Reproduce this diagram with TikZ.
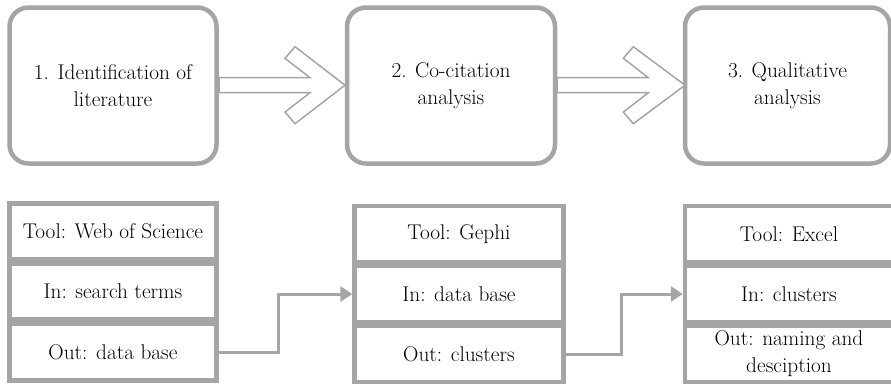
\documentclass[tikz,border=0pt]{standalone}
\usetikzlibrary{arrows.meta}
\definecolor{boxgray}{HTML}{A5A5A5}
\tikzset{
  stage/.style={draw=boxgray, line width=4.5pt, rounded corners=19pt, fill=white,
    align=center, inner sep=0pt, font=\fontsize{21.3}{27}\selectfont},
  cell/.style={draw=boxgray, line width=4.5pt, fill=white, align=center, inner sep=0pt,
    minimum height=56pt, font=\fontsize{21.3}{27}\selectfont},
  hollow/.style={draw=boxgray, line width=1.5pt, fill=white, line join=miter},
  link/.style={draw=boxgray, line width=3pt, -{Triangle[length=12pt,width=15pt]}}
}
\begin{document}
\begin{tikzpicture}[x=1pt,y=-1pt]
\useasboundingbox (0,0) rectangle (891,384);
% top stages
\node[stage, minimum width=207pt, minimum height=156pt] (s1) at (113,85.5) {1. Identification of\\literature};
\node[stage, minimum width=208pt, minimum height=156pt] (s2) at (451,85.5) {2. Co-citation\\analysis};
\node[stage, minimum width=205pt, minimum height=156pt] (s3) at (787.5,85.5) {3. Qualitative\\analysis};
% hollow arrows
\draw[hollow] (219,77.7) -- (310,77.7) -- (285,58.3) -- (295,46.7) -- (345,85.2)
  -- (295,123.7) -- (285,112.1) -- (310,92.7) -- (219,92.7) -- cycle;
\draw[hollow] (557,77.7) -- (648.3,77.7) -- (623.3,58.3) -- (633.3,46.7) -- (685,85.2)
  -- (633.3,123.7) -- (623.3,112.1) -- (648.3,92.7) -- (557,92.7) -- cycle;
% group 1
\node[cell, minimum width=207pt] (a1) at (113,231.25) {Tool: Web of Science};
\node[cell, minimum width=207pt] (a2) at (113,291.5) {In: search terms};
\node[cell, minimum width=207pt, minimum height=57pt] (a3) at (113,352) {Out: data base};
% group 2
\node[cell, minimum width=209pt] (b1) at (459,234) {Tool: Gephi};
\node[cell, minimum width=209pt] (b2) at (459,294) {In: data base};
\node[cell, minimum width=209pt] (b3) at (459,354) {Out: clusters};
% group 3
\node[cell, minimum width=208pt] (c1) at (789,234) {Tool: Excel};
\node[cell, minimum width=208pt] (c2) at (789,294) {In: clusters};
\node[cell, minimum width=208pt] (c3) at (789,354) {Out: naming and\\desciption};
% connectors
\draw[link] (a3.east) -- (278.3,352) |- (b2.west);
\draw[link] (b3.east) -- (621.7,354) |- (c2.west);
\end{tikzpicture}
\end{document}
